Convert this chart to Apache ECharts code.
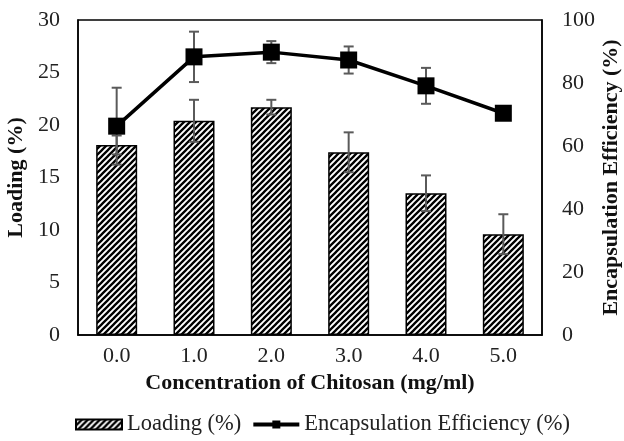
<!DOCTYPE html>
<html><head><meta charset="utf-8">
<script src="https://cdn.jsdelivr.net/npm/echarts@6/dist/echarts.min.js"></script>
<style>html,body{margin:0;padding:0;background:#fff}#c{width:624px;height:441px}</style>
</head><body><div id="c"></div>
<script>
const categories = ['0.0','1.0','2.0','3.0','4.0','5.0'];
const loading = [18.1, 20.4, 21.7, 17.4, 13.5, 9.6];
const loadingErr = [0.9, 2.0, 0.7, 1.9, 1.7, 1.9];
const ee = [66.3, 88.3, 89.8, 87.3, 79.1, 70.4];
const eeErr = [12.2, 8.0, 3.5, 4.3, 5.7, 1.0];
const leftTicks = [0, 5, 10, 15, 20, 25, 30];
const rightTicks = [0, 20, 40, 60, 80, 100];

const FONT = '"Liberation Serif", "Times New Roman", serif';

function hatch() {
  const s = 6, c = document.createElement('canvas');
  c.width = s; c.height = s;
  const g = c.getContext('2d');
  g.fillStyle = '#fff'; g.fillRect(0, 0, s, s);
  g.strokeStyle = '#000'; g.lineWidth = 2.3;
  g.beginPath();
  g.moveTo(-1, s + 1); g.lineTo(s + 1, -1);
  g.moveTo(-1, 1); g.lineTo(1, -1);
  g.moveTo(s - 1, s + 1); g.lineTo(s + 1, s - 1);
  g.stroke();
  return c;
}
const pattern = { image: hatch(), repeat: 'repeat' };

function errRender(vals, errs, color) {
  return function (params, api) {
    const i = api.value(0);
    const top = api.coord([i, vals[i] + errs[i]]);
    const bot = api.coord([i, vals[i] - errs[i]]);
    const hw = 5;
    const st = { stroke: color, lineWidth: 2 };
    return { type: 'group', children: [
      { type: 'line', shape: { x1: top[0], y1: top[1], x2: bot[0], y2: bot[1] }, style: st },
      { type: 'line', shape: { x1: top[0] - hw, y1: top[1], x2: top[0] + hw, y2: top[1] }, style: st },
      { type: 'line', shape: { x1: bot[0] - hw, y1: bot[1], x2: bot[0] + hw, y2: bot[1] }, style: st }
    ]};
  };
}

const chart = echarts.init(document.getElementById('c'), null, { renderer: 'canvas' });
chart.setOption({
  animation: false,
  textStyle: { fontFamily: FONT },
  grid: { left: 78, right: 82, top: 20, bottom: 106, show: true, borderColor: '#000', borderWidth: 1.5,
          backgroundColor: 'transparent', containLabel: false, outerBoundsMode: 'none' },
  legend: {
    bottom: 0, left: 70, itemGap: 10, itemWidth: 46, itemHeight: 10,
    textStyle: { fontFamily: FONT, fontSize: 22.5, color: '#222' },
    data: [
      { name: 'Loading (%)', icon: 'rect' },
      { name: 'Encapsulation Efficiency (%)', lineStyle: { width: 4, color: '#000' }, itemStyle: { color: '#000' } }
    ]
  },
  xAxis: {
    type: 'category', data: categories,
    axisLine: { lineStyle: { color: '#000', width: 1.5 } },
    axisTick: { show: false },
    axisLabel: { fontFamily: FONT, fontSize: 22, color: '#222', margin: 10 },
    name: 'Concentration of Chitosan (mg/ml)', nameLocation: 'middle', nameGap: 35,
    nameTextStyle: { fontFamily: FONT, fontSize: 22, fontWeight: 'bold', color: '#111' }
  },
  yAxis: [
    {
      type: 'value', min: leftTicks[0], max: leftTicks[leftTicks.length - 1], interval: 5,
      axisLine: { show: true, lineStyle: { color: '#000', width: 1.5 } },
      axisTick: { show: false }, splitLine: { show: false },
      axisLabel: { fontFamily: FONT, fontSize: 22, color: '#222', margin: 18 },
      name: 'Loading (%)', nameLocation: 'middle', nameRotate: 90, nameGap: 48,
      nameTextStyle: { fontFamily: FONT, fontSize: 22, fontWeight: 'bold', color: '#111' }
    },
    {
      type: 'value', min: rightTicks[0], max: rightTicks[rightTicks.length - 1], interval: 20,
      position: 'right',
      axisLine: { show: true, lineStyle: { color: '#000', width: 1.5 } },
      axisTick: { show: false }, splitLine: { show: false },
      axisLabel: { fontFamily: FONT, fontSize: 22, color: '#222', margin: 20 },
      name: 'Encapsulation Efficiency (%)', nameLocation: 'middle', nameRotate: 90, nameGap: 58,
      nameMoveOverlap: false,
      nameTextStyle: { fontFamily: FONT, fontSize: 22, fontWeight: 'bold', color: '#111' }
    }
  ],
  series: [
    {
      name: 'Loading (%)', type: 'bar', data: loading, barWidth: 41, yAxisIndex: 0,
      itemStyle: { color: pattern, borderColor: '#000', borderWidth: 1.5 }, z: 2
    },
    {
      name: 'loadErr', type: 'custom', yAxisIndex: 0, z: 3,
      data: loading.map((v, i) => [i, v]),
      renderItem: errRender(loading, loadingErr, '#5a5a5a')
    },
    {
      name: 'eeErr', type: 'custom', yAxisIndex: 1, z: 4,
      data: ee.map((v, i) => [i, v]),
      renderItem: errRender(ee, eeErr, '#5a5a5a')
    },
    {
      name: 'Encapsulation Efficiency (%)', type: 'line', data: ee, yAxisIndex: 1, z: 5,
      symbol: 'rect', symbolSize: 17,
      lineStyle: { color: '#000', width: 3.5 },
      itemStyle: { color: '#000' }
    }
  ]
});
</script></body></html>
